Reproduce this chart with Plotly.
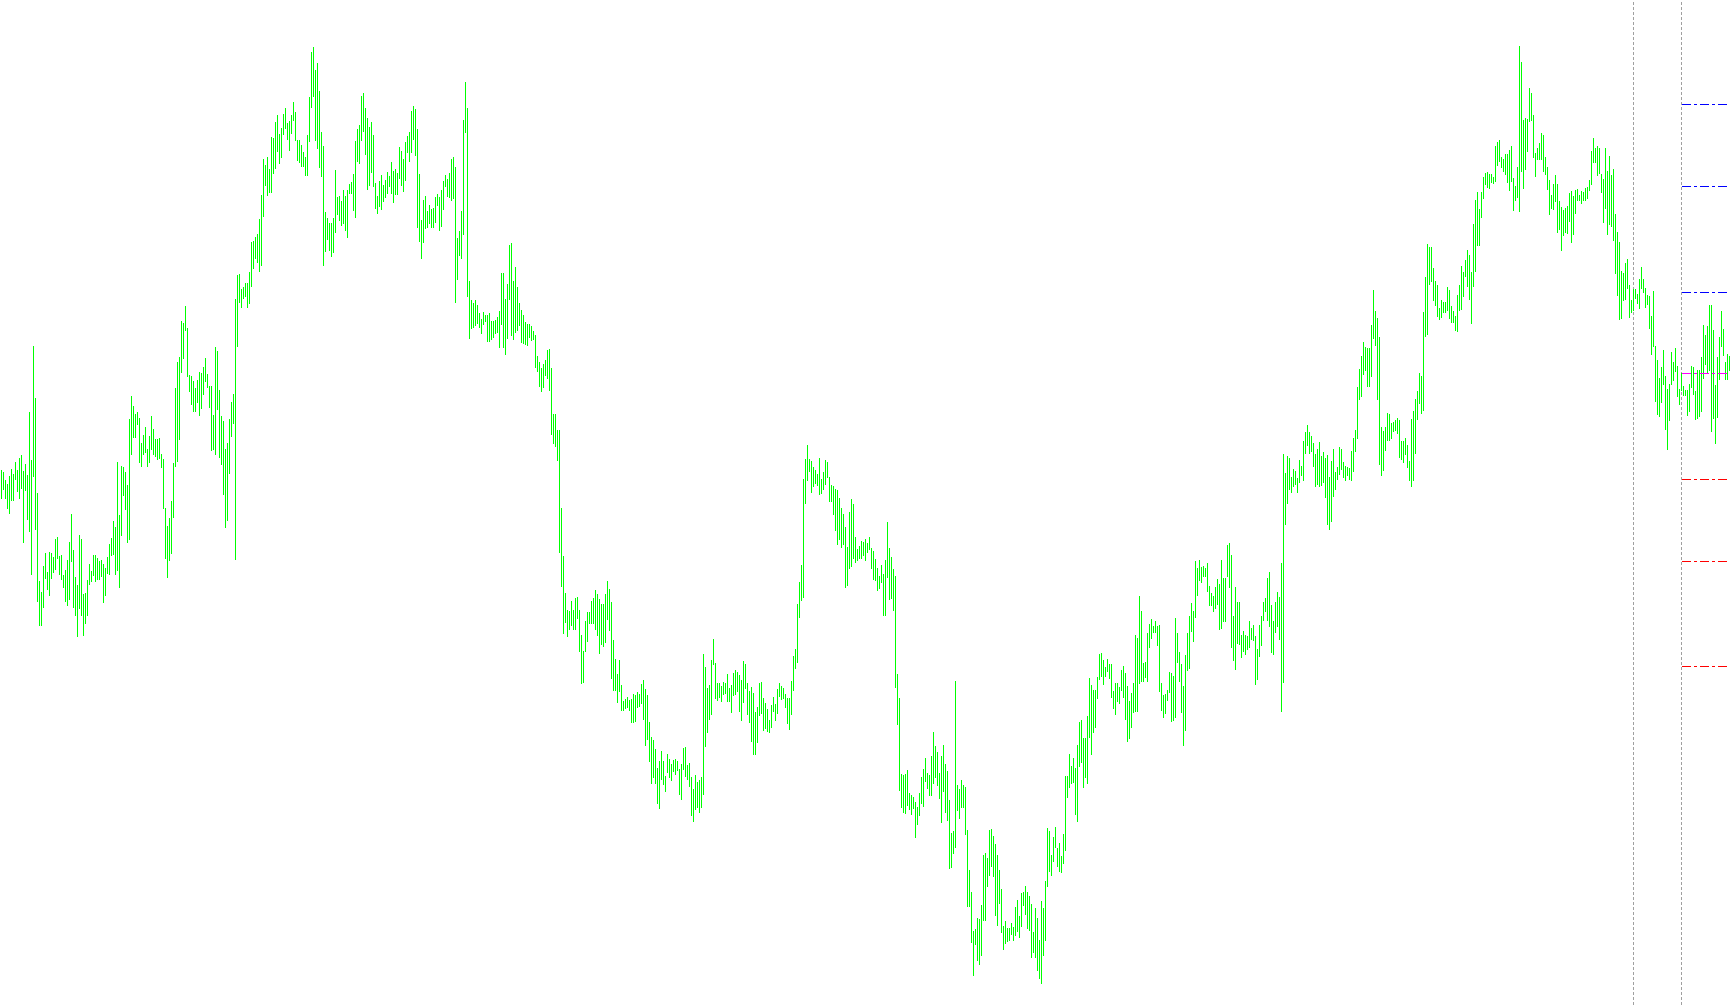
import plotly.graph_objects as go

# ---- price bars (high / low), in price points ----
high_a = [535,533,525,521,529,536,531,543,535,547,
          550,534,541,530,593,545,659,607,512,424,
          413,439,452,433,453,452,448,466,468,449,
          450,430,435,445,463,491,455,428,420,470,
          466,411,412,425,441,434,450,450,447,444,
          445,441,437,448,461,467,484,478,543,490,
          539,538,533,520,586,609,599,591,593,587,
          562,570,578,556,569,589,576,566,566,567,
          551,546,497,479,487,504,542,617,643,648,
          684,682,699,677,630,629,624,617,625,633,
          632,638,647,631,619,619,590,658,654,615,
          589,584,556,562,586,603,611,706,730,731,
          716,718,722,722,733]
low_a = [506,515,506,496,491,504,504,525,513,506,
         516,462,514,485,473,430,528,475,403,379,
         379,397,426,415,409,426,432,435,446,430,
         425,417,403,399,405,443,397,389,368,396,
         389,369,381,389,420,423,429,423,425,425,
         428,402,409,431,430,449,450,430,434,417,
         469,509,495,462,465,550,567,567,580,542,
         538,550,552,538,542,555,550,548,545,546,
         537,496,446,427,444,451,487,538,543,565,
         632,646,674,628,613,600,593,593,602,589,
         596,610,623,617,597,554,555,550,595,547,
         540,510,477,484,531,568,581,445,658,702,
         697,706,708,697,701]

high_b = [763,764,768,771,786,810,846,840,848,836,
          868,867,883,890,871,877,891,897,882,884,
          890,903,893,865,865,860,853,848,870,908,
          953,958,935,942,914,873,859,793,787,782,
          782,787,835,808,809,804,815,809,815,821,
          823,831,864,876,880,909,912,897,887,878,
          883,870,822,809,824,830,820,825,833,829,
          843,834,836,832,858,854,846,863,869,873,
          894,899,896,876,831,785,805,809,794,800,
          796,797,808,811,808,815,824,830,826,832,
          846,848,838,767,774,794,885,923,897,724,
          705,702,705,700,692,686,693,690,690,692,
          684,684,685,688,694]
low_b = [718,736,746,742,733,739,788,819,809,812,
         812,831,836,853,841,847,870,876,865,854,
         871,884,864,844,842,838,838,829,829,863,
         897,908,864,856,837,828,739,753,765,754,
         748,752,772,790,784,779,781,774,767,811,
         811,794,787,843,841,864,873,850,815,819,
         832,818,796,791,798,795,803,807,811,818,
         811,802,810,810,826,819,813,824,852,843,
         852,865,849,777,763,746,762,776,777,781,
         777,777,782,799,774,778,795,818,808,807,
         804,806,702,725,749,746,770,872,708,666,
         676,677,679,681,677,671,680,683,663,663,
         665,667,671,672,657]

high_c = [732,732,706,721,760,762,724,738,718,702,
          695,690,683,681,681,679,674,670,649,643,
          637,641,645,655,656,637,591,591,575,575,
          497,449,412,395,394,404,395,407,408,395,
          370,354,384,393,393,404,407,415,411,406,
          401,401,411,424,416,403,365,346,331,345,
          320,304,306,308,305,306,311,310,313,311,
          321,325,316,310,283,268,265,256,237,244,
          254,244,229,251,246,241,245,246,244,236,
          241,257,258,240,242,228,216,230,223,225,
          228,351,338,317,320,345,366,342,322,322,
          319,323,322,331,317,320,332,335,333,330,
          325,344,341,322,314]
low_c = [680,657,650,666,705,669,665,672,674,679,
         662,661,660,659,667,664,665,637,633,618,
         613,617,629,626,614,570,561,558,544,452,
         418,371,382,368,375,379,375,375,386,353,
         321,322,353,363,381,381,381,375,369,351,
         360,358,362,385,374,326,314,314,302,313,
         294,294,296,297,294,282,282,283,297,298,
         301,285,259,265,243,221,227,221,201,196,
         225,220,213,232,227,224,233,230,234,210,
         205,235,228,225,218,189,183,195,197,192,
         197,210,258,272,285,290,340,306,304,307,
         303,310,311,303,303,292,309,310,313,293,
         284,302,316,290,282]

high_d = [318,312,293,298,322,323,307,302,296,285,
          300,308,301,316,322,319,317,311,307,307,
          324,349,356,401,423,440,526,546,560,546,
          544,538,535,531,547,526,533,545,543,528,
          520,519,516,515,507,497,491,478,458,493,
          506,501,468,456,459,464,463,466,462,468,
          457,454,446,437,429,440,431,445,483,457,
          448,436,429,331,307,231,230,231,235,212,
          210,208,203,198,212,228,236,247,232,230,
          249,273,259,253,232,249,260,241,234,205,
          172,174,324,220,216,225,220,218,175,135,
          113,74,76,87,86,100,150,152,147,175,
          176,169,161,150,135]
low_d = [263,250,250,262,289,291,274,276,273,272,
         277,293,284,291,308,305,306,297,281,275,
         290,314,336,342,387,404,407,501,524,533,
         512,518,521,519,510,511,515,520,527,503,
         503,490,474,460,465,457,460,417,419,436,
         438,446,442,444,446,446,449,444,452,455,
         436,425,424,414,416,422,389,389,427,405,
         406,394,317,280,214,197,192,191,199,195,
         190,196,167,180,189,201,198,223,216,209,
         209,221,227,219,206,182,213,192,184,136,
         137,151,157,194,186,197,197,170,98,98,
         62,29,60,44,40,49,84,84,118,129,
         138,128,89,79,101]

high_e = [116,79,84,77,77,82,78,98,105,89,
          112,113,119,113,109,101,73,97,87,65,
          104,97,124,177,174,150,168,178,157,162,
          149,171,229,229,251,239,247,237,260,283,
          285,267,267,289,327,320,315,315,328,351,
          352,345,338,346,341,341,314,322,322,318,
          335,339,332,319,304,312,322,370,367,409,
          394,342,343,372,381,386,379,384,379,380,
          322,310,311,315,333,332,329,387,372,353,
          341,319,350,372,389,402,394,444,437,445,
          438,439,437,442,419,412,409,418,426,421,
          445,427,427,460,462,450,389,418,403,403,
          370,374,370,369,384]
low_e = [72,55,61,63,64,70,64,69,73,67,
         78,99,90,76,74,47,52,47,34,26,
         21,49,64,118,133,129,143,157,138,133,
         132,141,154,207,217,221,222,190,183,238,
         242,217,227,221,267,250,272,277,306,325,
         328,320,328,333,326,307,296,290,303,301,
         314,307,285,263,266,277,292,293,293,321,
         323,323,327,323,357,366,372,372,359,313,
         294,287,291,304,312,283,284,287,342,323,
         292,259,274,334,336,373,363,387,409,424,
         422,428,428,413,399,399,393,396,400,375,
         376,383,383,428,417,357,344,335,361,360,
         347,353,350,355,357]

high_f = [377,380,369,356,380,389,403,407,427,433,
          400,384,403,413,408,442,551,532,549,547,
          528,536,534,527,545,539,564,573,580,573,
          569,562,551,556,563,549,553,547,550,528,
          544,556,533,538,558,556,543,539,538,537,
          554,567,575,618,636,649,663,658,657,657,
          680,715,694,687,668,578,574,578,592,591,
          582,583,585,587,585,564,564,567,560,544,
          586,594,606,614,632,629,693,728,761,758,
          758,737,724,720,697,705,703,703,718,715,
          699,694,689,710,720,739,733,745,755,750,
          733,781,805,813,796,813,828,832,833,831,
          831,828,859,863,865]
low_f = [365,364,320,325,348,359,384,393,384,378,
         352,350,372,378,365,293,322,480,501,515,
         512,518,520,512,522,529,524,551,559,551,
         553,538,518,520,518,519,522,507,480,475,
         483,508,515,525,530,535,527,524,529,525,
         524,533,553,566,605,608,630,634,618,618,
         628,666,659,605,540,529,534,554,564,564,
         566,573,574,571,547,545,542,550,537,524,
         518,524,551,585,601,591,594,668,670,720,
         723,704,699,688,685,687,692,692,694,686,
         682,682,674,673,694,695,708,728,718,705,
         681,718,733,759,759,787,806,820,817,816,
         822,821,823,839,843]

high_g = [848,846,851,851,855,859,827,819,838,959,
          943,885,887,886,917,912,890,852,857,862,
          872,870,848,838,825,810,821,830,821,804,
          798,795,797,799,812,814,809,815,816,810,
          814,813,817,818,825,854,867,857,859,857,
          831,826,857,834,849,830,836,791,773,763,
          734,732,742,746,720,705,716,716,711,726,
          738,726,717,710,709,689,714,659,645,627,
          638,655,629,616,621,653,643,657,639,616,
          632,619,615,615,621,639,638,614,635,635,
          648,680,670,679,700,700,675,620,648,668,
          694,676,643,651,649]
low_g = [837,833,830,822,814,823,794,804,807,793,
         833,816,835,853,883,884,847,828,845,845,
         845,833,830,815,790,796,795,803,772,775,
         754,769,772,771,783,762,770,791,804,804,
         801,804,804,806,814,820,842,842,829,831,
         812,782,796,770,780,778,764,731,709,685,
         686,704,705,716,687,692,694,706,701,696,
         716,712,697,700,676,650,658,603,590,588,
         602,620,575,555,584,620,624,633,608,600,
         614,609,609,589,593,617,610,585,586,588,
         593,626,640,632,634,573,586,561,587,625,
         658,649,625,625,634]

highs = high_a + high_b + high_c + high_d + high_e + high_f + high_g
lows = low_a + low_b + low_c + low_d + low_e + low_f + low_g

# ---- period separators (bar index) and pivot levels ----
separator_bars = [816, 840]
levels_start_bar = 840
level_values = [900.5, 818.5, 712.5, 631.5, 525.5, 443.5, 338.5]
level_colors = ["#0000ff", "#0000ff", "#0000ff", "#ff00ff",
                "#ff0000", "#ff0000", "#ff0000"]

BAR_COLOR = "#00ff00"
n = min(len(highs), len(lows))

xs, ys = [], []
for i in range(n):
    xs += [i, i, None]
    ys += [lows[i], highs[i], None]

fig = go.Figure()
fig.add_trace(go.Scatter(x=xs, y=ys, mode="lines",
                         line=dict(color=BAR_COLOR, width=1, simplify=False),
                         hoverinfo="skip", connectgaps=False))

x_lo, x_hi = -0.75, n - 0.75

shapes = []
for b in separator_bars:
    shapes.append(dict(type="line", xref="x", yref="paper", x0=b, x1=b, y0=0, y1=1,
                       line=dict(color="#a0a0a0", width=1, dash="3px,2px"), layer="below"))
for v, c in zip(level_values, level_colors):
    shapes.append(dict(type="line", xref="x", yref="y", x0=levels_start_bar, x1=x_hi,
                       y0=v, y1=v, line=dict(color=c, width=1, dash="9px,3px,3px,3px"),
                       layer="above"))

fig.update_layout(
    width=1730, height=1005,
    margin=dict(l=0, r=0, t=0, b=0),
    paper_bgcolor="white", plot_bgcolor="white",
    showlegend=False,
    xaxis=dict(range=[x_lo, x_hi], visible=False, fixedrange=True),
    yaxis=dict(range=[0, 1005], visible=False, fixedrange=True),
    shapes=shapes,
)

post = (
    "document.body.style.margin='0';"
    "document.body.style.overflow='hidden';"
    "var st=document.createElement('style');"
    "st.textContent='.js-plotly-plot path{shape-rendering:crispEdges !important;}';"
    "document.head.appendChild(st);"
)

fig.write_html("out.html", config={"displayModeBar": False}, post_script=post)
